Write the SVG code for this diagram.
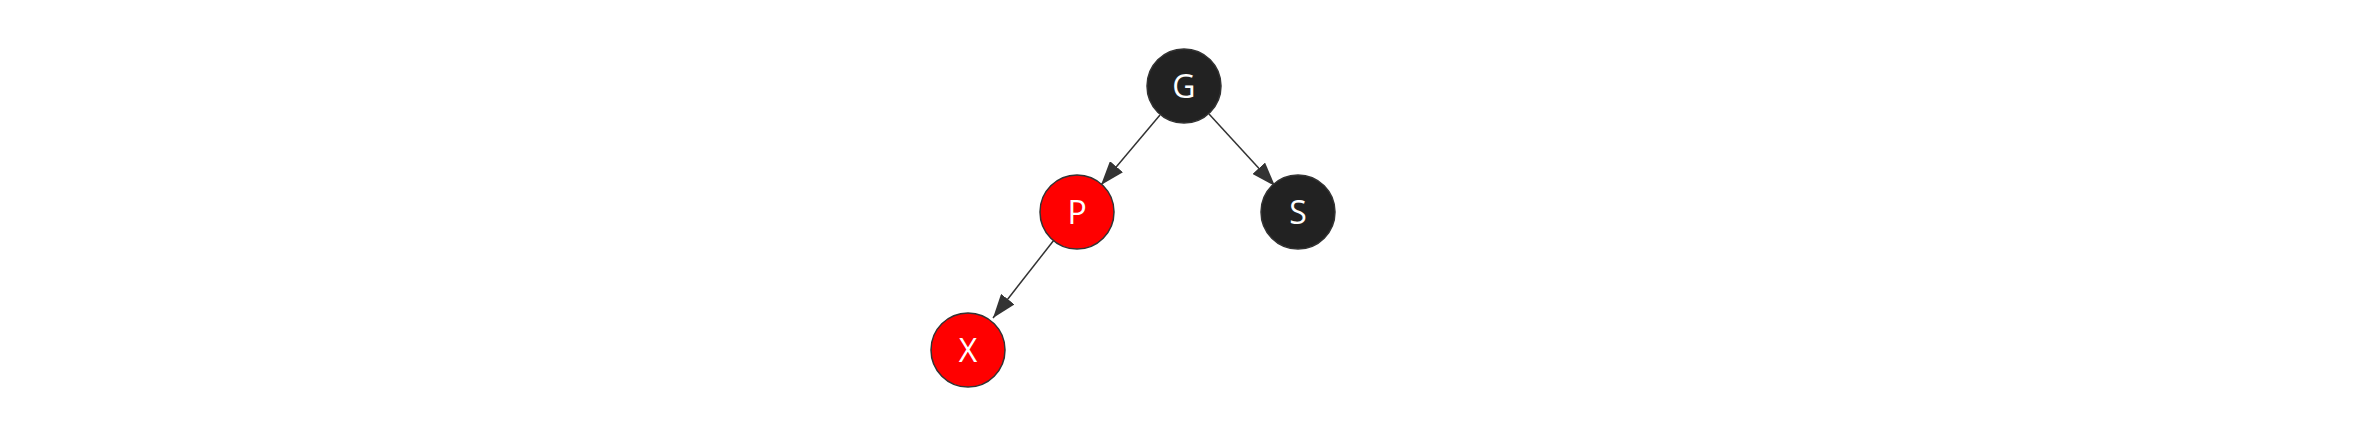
<svg xmlns="http://www.w3.org/2000/svg" width="2368" height="435" viewBox="0 0 2368 435">
<defs>
<style>
.node circle{stroke:#333;stroke-width:1.5}
.black circle{fill:#222}
.red circle{fill:#ff0000}
.node text{fill:#fff;font-family:"Open Sans","DejaVu Sans",sans-serif;font-size:32px;text-anchor:middle}
.edge{stroke:#333;stroke-width:1.5;fill:none;marker-end:url(#arrow)}
</style>
<marker id="arrow" markerWidth="24" markerHeight="17" refX="24" refY="8.5" orient="auto" markerUnits="userSpaceOnUse">
<path d="M0,0 L24,8.5 L0,17 Z" fill="#333"/>
</marker>
</defs>
<rect width="2368" height="435" fill="#fff"/>
<g id="connectors">
<line class="edge" x1="1160" y1="115" x2="1101" y2="185"/>
<line class="edge" x1="1209" y1="114" x2="1275" y2="186"/>
<line class="edge" x1="1054" y1="240" x2="993" y2="318"/>
</g>
<g id="node-G" class="node black"><circle cx="1184" cy="86" r="37"/><text x="1184" y="97.5">G</text></g>
<g id="node-P" class="node red"><circle cx="1077" cy="212" r="37"/><text x="1077" y="223.5">P</text></g>
<g id="node-S" class="node black"><circle cx="1298" cy="212" r="37"/><text x="1298" y="223.5">S</text></g>
<g id="node-X" class="node red"><circle cx="968" cy="350" r="37"/><text x="968" y="361.5">X</text></g>
</svg>
